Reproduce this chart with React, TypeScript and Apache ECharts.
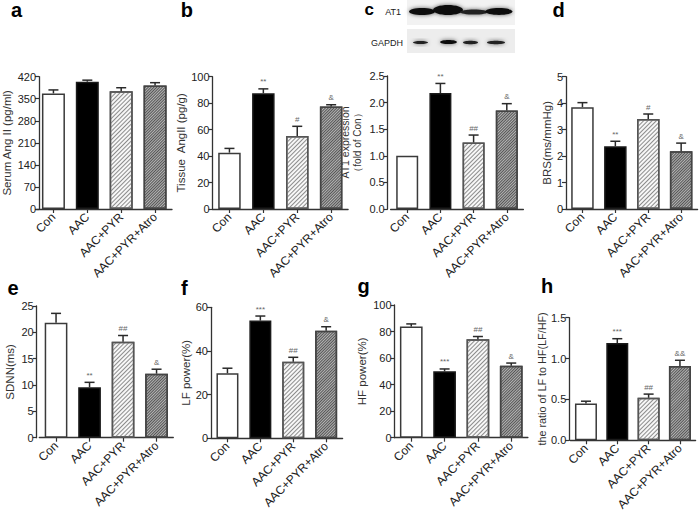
import React, { useEffect, useRef } from 'react';
import * as echarts from 'echarts';

// ---------- data ----------
const categories = ['Con', 'AAC', 'AAC+PYR', 'AAC+PYR+Atro'];

const serumAngIIMean = [367, 404, 374, 392];
const serumAngIISem = [11, 5, 11, 9];
const serumAngIISig = ['', '', '', ''];

const tissueAngIIMean = [42.6, 87.5, 55.2, 77.5];
const tissueAngIISem = [3.2, 3.3, 7.3, 1.3];
const tissueAngIISig = ['', '**', '#', '&'];

const at1Mean = [1.0, 2.18, 1.25, 1.85];
const at1Sem = [0, 0.18, 0.14, 0.13];
const at1Sig = ['', '**', '##', '&'];

const brsMean = [3.85, 2.37, 3.4, 2.18];
const brsSem = [0.17, 0.19, 0.19, 0.31];
const brsSig = ['', '**', '#', '&'];

const sdnnMean = [21.8, 9.56, 18.2, 12.15];
const sdnnSem = [1.8, 0.95, 1.2, 0.85];
const sdnnSig = ['', '**', '##', '&'];

const lfMean = [29.8, 53.9, 35.1, 49.3];
const lfSem = [2.3, 2.1, 2.0, 1.8];
const lfSig = ['', '***', '##', '&'];

const hfMean = [83.75, 50, 74.25, 54.25];
const hfSem = [2, 1.8, 2, 2];
const hfSig = ['', '***', '##', '&'];

const ratioMean = [0.45, 1.19, 0.52, 0.91];
const ratioSem = [0.028, 0.053, 0.045, 0.069];
const ratioSig = ['', '***', '##', '&&'];

// y-axis ticks: [max, interval, decimals]
const ticksA = [420, 70, 0];
const ticksB = [100, 20, 0];
const ticksC = [2.5, 0.5, 1];
const ticksD = [5, 1, 0];
const ticksE = [25, 5, 0];
const ticksF = [60, 20, 0];
const ticksG = [100, 20, 0];
const ticksH = [1.5, 0.5, 1];

const yNames = [
  'Serum Ang II (pg/ml)',
  'Tissue  AngII (pg/g)',
  'AT1 expression',
  'BRS(ms/mmHg)',
  'SDNN(ms)',
  'LF power(%)',
  'HF power(%)',
  'the ratio of LF to HF(LF/HF)',
];
const at1NameSecondLine = '\uFF08fold of Con\uFF09';

// ---------- layout / style ----------
const FONT = '"Liberation Sans", Arial, Helvetica, sans-serif';

const panelData = [
  { mean: serumAngIIMean, sem: serumAngIISem, sig: serumAngIISig, ticks: ticksA },
  { mean: tissueAngIIMean, sem: tissueAngIISem, sig: tissueAngIISig, ticks: ticksB },
  { mean: at1Mean, sem: at1Sem, sig: at1Sig, ticks: ticksC },
  { mean: brsMean, sem: brsSem, sig: brsSig, ticks: ticksD },
  { mean: sdnnMean, sem: sdnnSem, sig: sdnnSig, ticks: ticksE },
  { mean: lfMean, sem: lfSem, sig: lfSig, ticks: ticksF },
  { mean: hfMean, sem: hfSem, sig: hfSig, ticks: ticksG },
  { mean: ratioMean, sem: ratioSem, sig: ratioSig, ticks: ticksH },
];

const layouts = [
  { left: 35.5, top: 76.7, width: 136.5, height: 132.3, yOffset: -2.5, barWidth: 23, nameGap: 26, nameSize: 11.5 },
  { left: 212.5, top: 76.7, width: 135.6, height: 132.3, yOffset: 0, barWidth: 22.5, nameGap: 22, nameSize: 11.5 },
  { left: 390.6, top: 76, width: 132.8, height: 133, yOffset: 2.9, barWidth: 22, nameGap: 37, nameSize: 10.5 },
  { left: 566, top: 76.7, width: 131.6, height: 132.3, yOffset: 0, barWidth: 22.5, nameGap: 13, nameSize: 11.5 },
  { left: 39.3, top: 306, width: 134, height: 131.7, yOffset: 2.6, barWidth: 22.7, nameGap: 21, nameSize: 11.5 },
  { left: 211, top: 307.3, width: 131.6, height: 131, yOffset: 0, barWidth: 22, nameGap: 18, nameSize: 11.5 },
  { left: 394.6, top: 305, width: 133.3, height: 132.7, yOffset: 0, barWidth: 22.7, nameGap: 27, nameSize: 11.5 },
  { left: 570.3, top: 317.7, width: 125.3, height: 124.6, yOffset: 1, barWidth: 22, nameGap: 18, nameSize: 10.8 },
];

const letters = [
  { t: 'a', x: 11, y: 9.8, s: 20 },
  { t: 'b', x: 180.8, y: 9.8, s: 20 },
  { t: 'c', x: 364.5, y: 9.2, s: 17 },
  { t: 'd', x: 552.5, y: 9.8, s: 20 },
  { t: 'e', x: 7.5, y: 288.1, s: 20 },
  { t: 'f', x: 181, y: 288.1, s: 20 },
  { t: 'g', x: 357.5, y: 285.8, s: 20 },
  { t: 'h', x: 541, y: 285.8, s: 20 },
];

const barStyles: any[] = [
  { color: '#ffffff', borderColor: '#3a3a3a', borderWidth: 1.5 },
  { color: '#000000', borderColor: '#1a1a1a', borderWidth: 1.5 },
  {
    color: '#f7f7f7',
    borderColor: '#555555',
    borderWidth: 1.5,
    decal: { symbol: 'rect', symbolSize: 1, dashArrayX: [1, 0], dashArrayY: [1, 2], rotation: -Math.PI / 4, color: '#8c8c8c' },
  },
  {
    color: '#b4b4b4',
    borderColor: '#444444',
    borderWidth: 1.5,
    decal: { symbol: 'rect', symbolSize: 1, dashArrayX: [1, 0], dashArrayY: [1, 1], rotation: -Math.PI / 4, color: '#555555' },
  },
];

function buildOption() {
  const grid: any[] = [];
  const xAxis: any[] = [];
  const yAxis: any[] = [];
  const series: any[] = [];

  panelData.forEach((p, i) => {
    const L = layouts[i];
    const [max, interval, dec] = p.ticks;
    grid.push({ left: L.left, top: L.top, width: L.width, height: L.height, containLabel: false });
    xAxis.push({
      type: 'category',
      gridIndex: i,
      data: categories,
      axisLine: { show: true, lineStyle: { color: '#333', width: 1.3 } },
      axisTick: { show: true, alignWithLabel: true, length: 4, lineStyle: { color: '#333', width: 1.2 } },
      axisLabel: { interval: 0, rotate: 45, fontSize: 12, color: '#222', margin: 6, fontFamily: FONT },
      splitLine: { show: false },
    });
    yAxis.push({
      type: 'value',
      gridIndex: i,
      position: 'left',
      min: 0,
      max,
      interval,
      offset: L.yOffset,
      name: yNames[i],
      nameLocation: 'middle',
      nameGap: L.nameGap,
      nameTextStyle: { fontSize: L.nameSize, color: '#333', fontFamily: FONT },
      axisLine: { show: true, lineStyle: { color: '#333', width: 1.3 } },
      axisTick: { show: true, length: 4, lineStyle: { color: '#333', width: 1.2 } },
      axisLabel: {
        fontSize: 11,
        color: '#222',
        margin: 3,
        fontFamily: FONT,
        formatter: (v: number) => v.toFixed(dec),
      },
      splitLine: { show: false },
    });
    series.push({
      type: 'bar',
      xAxisIndex: i,
      yAxisIndex: i,
      barWidth: L.barWidth,
      z: 2,
      data: p.mean.map((v, k) => ({ value: v, itemStyle: barStyles[k] })),
    });
    const sig = p.sig;
    series.push({
      type: 'custom',
      xAxisIndex: i,
      yAxisIndex: i,
      z: 5,
      encode: { x: 0, y: 1 },
      data: p.mean.map((v, k) => [k, v, p.sem[k]]),
      renderItem: (params: any, api: any) => {
        const idx = api.value(0);
        const m = api.value(1);
        const s = api.value(2);
        const p0 = api.coord([idx, m]);
        const p1 = api.coord([idx, m + s]);
        const children: any[] = [];
        const st = { stroke: '#2a2a2a', lineWidth: 1.5 };
        if (s > 0) {
          children.push({ type: 'line', shape: { x1: p0[0], y1: p0[1], x2: p1[0], y2: p1[1] }, style: st });
          children.push({ type: 'line', shape: { x1: p1[0] - 5, y1: p1[1], x2: p1[0] + 5, y2: p1[1] }, style: st });
        }
        const t = sig[params.dataIndex];
        if (t) {
          children.push({
            type: 'text',
            style: {
              text: t,
              x: p1[0],
              y: p1[1] - 3,
              align: 'center',
              verticalAlign: 'bottom',
              fontSize: 8,
              fill: '#666',
              fontFamily: FONT,
            },
          });
        }
        return { type: 'group', children };
      },
    });
  });

  // extra invisible axis that carries the second line of panel c's y-axis name
  yAxis.push({
    type: 'value',
    gridIndex: 2,
    position: 'left',
    min: 0,
    max: ticksC[0],
    interval: ticksC[1],
    offset: layouts[2].yOffset,
    name: at1NameSecondLine,
    nameLocation: 'middle',
    nameGap: 25,
    nameTextStyle: { fontSize: 10, color: '#333', fontFamily: FONT },
    axisLine: { show: false },
    axisTick: { show: false },
    axisLabel: { show: false },
    splitLine: { show: false },
  });

  const graphic: any[] = [];
  letters.forEach((l) => {
    graphic.push({
      type: 'text',
      x: l.x,
      y: l.y,
      style: {
        text: l.t,
        fontSize: l.s,
        fontWeight: 'bold',
        fontFamily: FONT,
        fill: '#000',
        align: 'left',
        verticalAlign: 'middle',
      },
    });
  });

  // western blot inset
  const band = (cx: number, cy: number, rx: number, ry: number, fill = '#111') => ({
    type: 'ellipse',
    shape: { cx, cy, rx, ry },
    style: { fill, shadowBlur: 4, shadowColor: 'rgba(0,0,0,0.6)' },
  });
  graphic.push(
    { type: 'rect', shape: { x: 407, y: 0, width: 108, height: 25 }, style: { fill: '#f2f2f2' } },
    { type: 'rect', shape: { x: 407, y: 29, width: 108, height: 24 }, style: { fill: '#ededed' } },
    band(422, 11.5, 13, 3.6),
    band(448, 10, 15, 5),
    band(474, 12, 14, 2.6, '#222'),
    band(499, 11.5, 13.5, 3.4),
    band(420.5, 42.5, 7.5, 1.5, '#222'),
    band(448.5, 42, 8.5, 2.1),
    band(470.5, 42.5, 7.5, 1.7, '#222'),
    band(496, 42.5, 9, 1.7, '#222'),
    {
      type: 'text',
      x: 401,
      y: 12,
      style: { text: 'AT1', fontSize: 9, fill: '#222', align: 'right', verticalAlign: 'middle', fontFamily: FONT },
    },
    {
      type: 'text',
      x: 403,
      y: 42.7,
      style: { text: 'GAPDH', fontSize: 9, fill: '#222', align: 'right', verticalAlign: 'middle', fontFamily: FONT },
    }
  );

  return {
    animation: false,
    backgroundColor: '#ffffff',
    textStyle: { fontFamily: FONT },
    grid,
    xAxis,
    yAxis,
    series,
    graphic,
  };
}

export default function App() {
  const ref = useRef<HTMLDivElement>(null);
  useEffect(() => {
    const chart = echarts.init(ref.current as HTMLDivElement, null, { renderer: 'svg' });
    chart.setOption(buildOption() as any);
    return () => chart.dispose();
  }, []);
  return (
    <div
      ref={ref}
      style={{ position: 'absolute', left: 0, top: 0, width: 700, height: 513, background: '#fff' }}
    />
  );
}
